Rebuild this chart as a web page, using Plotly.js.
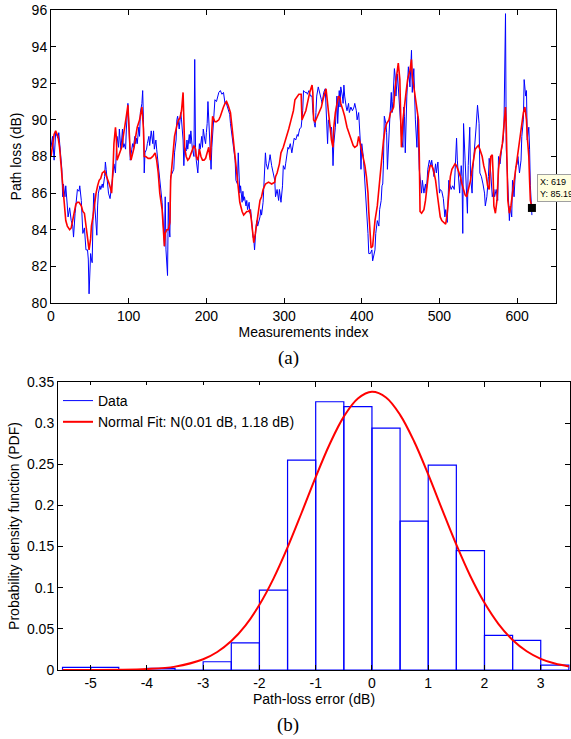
<!DOCTYPE html>
<html>
<head>
<meta charset="utf-8">
<script src="https://cdn.plot.ly/plotly-3.0.1.min.js"></script>
<style>html,body{margin:0;padding:0;background:#fff;}#chart{width:571px;height:739px;}</style>
</head>
<body>
<div id="chart"></div>
<script>
// ---- (a) measured path loss (blue) ----
const measuredIndex = [0,2,4,6,9,10,12,14,15,16,18,19,21,22,24,26,28,29,31,33,34,36,37,39,40,41,43,44,45,47,48,49,51,52,53,54,55,56,57,59,60,61,63,64,66,67,69,70,71,73,74,76,77,78,80,81,83,84,85,87,88,89,90,92,93,94,96,97,99,100,101,102,104,105,106,108,109,110,111,113,114,115,117,118,119,120,121,123,124,126,127,128,129,131,132,133,135,136,137,139,141,143,144,146,147,148,150,151,152,153,154,156,158,159,161,162,163,165,166,167,168,170,171,172,174,175,176,178,179,180,181,182,184,185,186,187,189,190,191,192,194,195,196,198,199,200,201,202,204,205,206,207,209,210,211,213,214,215,216,218,219,220,222,223,224,225,227,228,230,231,233,235,237,238,240,241,242,243,244,246,247,248,249,251,252,253,255,256,257,258,260,261,262,264,265,266,267,269,270,271,273,274,276,277,279,281,282,284,286,288,289,291,293,294,296,298,299,301,302,303,305,306,308,310,312,313,315,317,318,320,322,324,325,327,329,330,332,334,336,337,339,340,341,342,344,346,348,349,351,353,354,356,357,358,360,361,362,363,364,366,367,368,369,371,372,373,375,376,377,378,380,381,383,384,386,388,390,391,393,394,396,397,398,399,400,402,403,404,405,407,408,409,411,413,414,417,418,420,422,423,425,426,427,428,429,431,432,433,435,436,438,439,440,442,443,444,446,447,449,451,453,454,455,456,458,460,462,464,465,467,469,471,472,474,477,478,480,482,483,485,487,489,490,492,493,495,496,498,500,501,503,505,507,508,510,512,513,515,517,519,520,522,523,525,526,528,529,530,531,533,535,536,537,539,540,542,543,545,547,549,551,552,554,556,558,559,561,563,564,566,568,570,571,573,575,576,578,580,582,583,585,586,588,589,590,591,593,594,596,598,600,601,603,605,606,608,609,611,612,613,615,616,617,619];
const measuredLoss = [88.5,89.1,87.8,89.3,89.0,89.3,88.3,87.3,85.8,86.5,85.8,86.4,85.3,84.7,85.2,84.5,84.2,83.6,84.9,86.0,86.2,86.1,86.4,85.6,84.7,83.8,84.1,83.6,82.9,82.9,82.4,80.5,82.7,82.4,82.2,84.5,86.0,85.5,84.7,83.7,85.3,86.0,86.4,86.2,86.5,86.3,86.9,87.7,87.3,86.5,86.0,85.7,86.0,86.5,87.1,87.6,87.1,88.2,89.1,88.5,89.5,88.9,88.4,89.5,88.5,88.7,88.4,89.5,90.9,90.0,88.7,87.8,88.4,88.7,88.5,89.1,88.7,89.0,88.7,89.6,89.1,90.4,90.9,91.6,90.0,87.1,88.2,88.4,88.7,89.1,88.6,88.9,89.4,88.7,89.4,88.4,88.9,88.4,88.0,87.3,86.4,85.5,84.7,83.1,85.8,82.9,81.5,85.5,84.2,83.6,86.9,87.1,87.3,88.2,88.9,90.0,90.2,89.5,90.3,90.4,90.0,88.9,87.5,88.5,88.3,88.9,88.4,89.2,88.7,89.4,88.9,88.4,88.0,93.3,88.5,87.8,87.1,88.0,88.7,88.4,89.1,88.5,89.5,88.9,88.7,89.3,89.8,91.0,89.1,87.5,87.3,88.5,90.2,90.5,91.1,91.0,91.2,91.3,91.5,91.6,91.5,91.4,91.5,91.2,90.9,91.0,90.7,90.5,90.3,89.8,89.1,88.5,87.8,86.7,86.5,88.2,86.9,86.0,86.4,85.5,86.1,85.6,85.8,85.3,85.6,85.1,85.5,84.9,85.1,84.4,83.6,83.5,82.9,84.2,84.5,84.2,84.4,84.7,85.1,84.8,85.5,86.8,88.2,87.6,87.3,87.8,88.1,87.5,87.1,86.7,85.8,86.2,85.6,86.2,85.5,86.4,87.5,87.3,87.6,88.0,88.5,88.4,88.7,88.2,88.7,89.0,88.9,89.2,89.1,89.5,89.6,90.5,91.6,91.5,91.5,91.4,91.6,91.3,91.3,90.5,89.8,89.6,90.4,91.3,91.8,91.5,91.1,90.9,91.5,91.7,90.9,88.7,90.0,89.8,89.5,89.6,88.9,87.5,88.7,89.6,90.5,91.3,89.8,91.6,90.7,91.8,91.3,90.9,91.9,91.3,90.7,90.5,90.9,90.4,90.7,90.5,90.7,90.9,90.5,90.0,90.4,89.6,88.9,87.3,88.7,88.0,87.3,86.9,86.0,84.9,83.8,82.7,82.7,82.9,82.3,82.9,83.8,84.5,84.2,85.1,85.6,86.4,86.5,87.8,90.2,89.8,89.3,87.3,89.5,90.0,91.5,90.4,91.0,92.8,92.4,91.3,92.5,91.8,90.9,89.1,88.5,90.7,90.2,88.2,91.3,92.9,91.8,93.8,91.5,92.8,90.0,88.5,90.2,87.3,86.0,86.7,86.0,86.5,86.0,87.3,87.8,87.5,87.8,87.3,86.9,87.6,87.1,87.7,86.0,86.2,86.1,85.7,84.7,85.1,84.4,86.7,86.5,86.2,86.4,86.2,87.1,89.0,87.8,86.4,86.0,87.5,86.9,83.8,89.8,87.8,86.2,84.9,87.5,89.6,86.9,86.0,87.3,88.2,89.5,90.8,89.8,87.1,86.9,86.5,86.0,85.3,85.8,86.9,87.9,87.1,85.8,86.2,85.8,86.2,85.6,88.0,87.6,88.4,88.9,89.6,95.8,88.4,86.5,85.1,84.5,85.3,84.7,86.7,85.8,87.4,87.6,88.0,87.1,87.8,89.1,90.0,92.2,91.3,91.6,88.9,89.6,88.4,86.4,84.8];

// ---- (a) model / smoothed path loss (red) ----
const modelIndex = [0,2,4,6,9,11,13,15,17,19,21,24,26,28,30,32,34,36,39,41,43,45,47,49,51,52,54,56,58,60,62,64,66,69,71,73,75,77,78,80,81,83,84,85,87,89,91,93,96,97,99,100,102,103,105,107,109,111,114,116,117,119,120,122,125,128,131,134,136,138,140,143,145,146,147,149,151,153,154,156,158,159,162,164,166,168,170,171,172,174,176,178,180,182,184,186,187,189,191,193,195,197,199,201,203,205,207,208,209,211,213,216,218,220,222,224,226,228,231,233,235,237,239,241,243,246,248,250,252,254,256,258,260,261,263,265,267,269,271,273,276,280,284,288,289,291,294,296,299,302,304,306,309,312,314,317,319,322,323,325,328,330,333,336,337,338,340,342,345,348,350,353,354,356,358,360,361,363,364,366,368,370,372,373,376,378,381,384,386,389,391,394,396,398,400,402,404,406,408,409,411,412,414,417,420,422,424,426,428,430,432,435,437,439,441,443,445,447,449,450,451,453,455,457,459,462,464,465,467,469,471,473,474,475,477,480,482,484,486,488,490,492,495,497,499,501,503,505,508,510,512,514,516,518,520,522,525,527,529,531,533,535,537,540,542,544,546,548,550,552,555,557,560,562,564,566,568,569,570,572,574,576,578,581,583,585,586,587,588,590,592,594,597,599,602,604,606,608,610,612,613,615,616,617,619];
const modelLoss = [88.0,88.7,89.2,89.4,89.1,88.5,87.6,86.5,85.6,84.5,84.2,84.0,84.1,84.5,85.1,85.4,85.5,85.5,85.3,85.0,84.9,84.2,83.5,82.9,83.5,84.2,84.7,85.5,86.0,86.4,86.7,86.8,87.1,87.2,87.0,86.7,86.5,86.2,86.0,87.5,88.7,89.6,89.1,87.8,88.0,88.2,88.5,89.1,89.8,90.2,90.8,89.6,88.2,87.8,88.2,88.5,89.1,89.6,90.0,90.5,90.7,89.5,88.0,88.0,87.9,87.9,88.0,88.2,87.8,87.1,86.0,85.1,84.0,83.1,83.8,84.0,84.0,84.4,86.7,87.8,88.5,89.1,89.7,90.0,90.1,90.5,91.5,90.2,88.5,88.0,87.8,87.9,88.1,88.4,88.6,88.4,88.0,87.8,88.4,88.0,87.8,87.8,87.9,88.2,88.5,87.8,89.3,90.2,90.1,89.9,89.9,90.0,90.2,90.5,90.7,90.9,91.0,90.8,90.4,89.6,88.7,87.8,86.9,86.0,85.5,85.0,84.8,84.9,85.0,85.0,85.1,84.5,83.8,83.3,83.8,84.5,85.1,85.6,85.8,86.2,86.5,86.6,86.5,86.6,86.9,87.1,87.6,88.2,88.5,88.9,89.2,89.5,90.0,90.5,91.1,91.3,91.4,91.4,90.0,90.2,90.5,90.9,91.5,91.9,91.5,90.0,89.9,90.1,90.4,90.7,91.1,91.5,91.7,90.9,90.0,89.3,88.9,88.5,89.6,90.4,90.9,91.3,91.2,90.9,90.5,90.2,89.6,89.2,88.9,88.6,88.5,88.6,89.1,88.7,88.2,87.8,87.5,86.9,86.0,85.0,83.8,83.0,83.1,84.5,85.3,86.2,87.3,88.2,88.9,89.5,89.8,90.0,90.4,90.5,90.7,91.8,92.5,93.1,92.2,89.6,88.5,90.0,90.9,91.5,92.2,92.7,93.3,92.4,91.8,91.1,90.5,90.0,88.2,85.0,84.9,85.1,85.6,86.4,87.1,87.5,87.5,87.3,86.7,86.0,85.3,84.7,84.5,84.4,84.3,84.9,86.0,86.9,87.3,87.5,87.6,87.5,87.2,86.9,86.5,86.2,85.9,85.8,86.2,86.7,87.3,87.8,88.4,88.5,88.6,88.4,88.0,87.5,87.0,86.4,86.2,88.0,88.1,87.1,85.3,84.9,85.6,87.3,88.0,88.7,89.6,90.7,89.6,87.5,85.6,84.9,85.3,86.0,86.9,87.6,88.4,89.1,89.8,90.4,90.7,90.0,89.1,88.0,86.7,85.6,85.19];

// ---- data tip ----
const tipX = [619];
const tipY = [85.19];

// ---- (b) histogram of path-loss error ----
const binCenters = [-5.25,-4.75,-4.25,-3.75,-3.25,-2.75,-2.25,-1.75,-1.25,-0.75,-0.25,0.25,0.75,1.25,1.75,2.25,2.75,3.25];
const binPdf = [0.0033,0.0033,0,0.002,0,0.010,0.033,0.097,0.255,0.326,0.320,0.294,0.181,0.249,0.145,0.042,0.036,0.006];

// ---- (b) normal fit curve ----
const fitX = [-5.5,-5,-4.5,-4,-3.5,-3,-2.75,-2.5,-2.25,-2,-1.75,-1.5,-1.25,-1,-0.75,-0.5,-0.25,0,0.25,0.5,0.75,1,1.25,1.5,1.75,2,2.25,2.5,2.75,3,3.25,3.5];
const fitPdf = [0.0000,0.0000,0.0002,0.0011,0.0041,0.0131,0.0219,0.0352,0.0540,0.0793,0.1111,0.1490,0.1911,0.2344,0.2747,0.3079,0.3299,0.3380,0.3311,0.3101,0.2777,0.2377,0.1946,0.1523,0.1139,0.0816,0.0558,0.0365,0.0228,0.0136,0.0078,0.0043];

// ---- tick labels ----
const topXTicks = [0,100,200,300,400,500,600];
const botXTicks = [-5,-4,-3,-2,-1,0,1,2,3];
const botXLabels = ['-5','-4','-3','-2','-1','0','1','2','3'];
const botYTicks = [0,0.05,0.1,0.15,0.2,0.25,0.3,0.35];
const botYLabels = ['0','0.05','0.1','0.15','0.2','0.25','0.3','0.35'];

const font = 'Liberation Sans, Arial, Helvetica, sans-serif';
const W = 571, H = 739;
function px(x){return x/W;}
function py(y){return 1 - y/H;}

const traces = [
  {x: measuredIndex, y: measuredLoss, type:'scatter', mode:'lines', line:{color:'#0000ff', width:1}, xaxis:'x', yaxis:'y', showlegend:false, hoverinfo:'skip'},
  {x: modelIndex, y: modelLoss, type:'scatter', mode:'lines', line:{color:'#ff0000', width:1.6}, xaxis:'x', yaxis:'y', showlegend:false, hoverinfo:'skip'},
  {x: tipX, y: tipY, type:'scatter', mode:'markers', marker:{symbol:'square', color:'#000', size:8}, xaxis:'x', yaxis:'y', showlegend:false, cliponaxis:false},
  {x: binCenters, y: binPdf, type:'bar', width:0.5, marker:{color:'rgba(0,0,0,0)', line:{color:'#0000ff', width:1.2}}, xaxis:'x2', yaxis:'y2', showlegend:false},
  {x: [null], y: [null], type:'scatter', mode:'lines', name:'Data', line:{color:'#0000ff', width:1}, xaxis:'x2', yaxis:'y2'},
  {x: fitX, y: fitPdf, type:'scatter', mode:'lines', name:'Normal Fit: N(0.01 dB, 1.18 dB)', line:{color:'#ff0000', width:2, shape:'spline'}, xaxis:'x2', yaxis:'y2'}
];

const axisCommon = {showline:true, linecolor:'#000', linewidth:1, mirror:'ticks', ticks:'inside', ticklen:5, tickcolor:'#000', showgrid:false, zeroline:false, tickfont:{family:font, size:14, color:'#000'}};

const layout = {
  width: W, height: H,
  margin:{l:0, r:0, t:0, b:0},
  paper_bgcolor:'#fff', plot_bgcolor:'#fff',
  font:{family:font, size:14, color:'#000'},
  bargap:0,
  xaxis: Object.assign({}, axisCommon, {domain:[px(51), px(556)], range:[0,650], tickvals:topXTicks, anchor:'y',
    title:{text:'Measurements index', font:{family:font, size:14}, standoff:2}}),
  yaxis: Object.assign({}, axisCommon, {domain:[py(303), py(10)], range:[80,96], dtick:2, anchor:'x',
    title:{text:'Path loss (dB)', font:{family:font, size:14}, standoff:6}}),
  xaxis2: Object.assign({}, axisCommon, {domain:[px(58), px(570)], range:[-5.58,3.52], tickvals:botXTicks, ticktext:botXLabels, anchor:'y2',
    title:{text:'Path-loss error (dB)', font:{family:font, size:14}, standoff:2}}),
  yaxis2: Object.assign({}, axisCommon, {domain:[py(670), py(382)], range:[0,0.35], tickvals:botYTicks, ticktext:botYLabels, anchor:'x2',
    title:{text:'Probability density function (PDF)', font:{family:font, size:14}, standoff:4}}),
  legend:{x:px(58), y:py(385), xanchor:'left', yanchor:'top', bgcolor:'#fff', borderwidth:0, font:{family:font, size:14}, tracegroupgap:0, itemwidth:30},
  showlegend:true,
  annotations:[
    {xref:'paper', yref:'paper', x:px(288), y:py(358), xanchor:'center', yanchor:'middle', text:'(a)', showarrow:false, font:{family:'Liberation Serif, Times New Roman, serif', size:19, color:'#000'}},
    {xref:'paper', yref:'paper', x:px(288), y:py(725), xanchor:'center', yanchor:'middle', text:'(b)', showarrow:false, font:{family:'Liberation Serif, Times New Roman, serif', size:19, color:'#000'}},
    {xref:'x', yref:'y', x:tipX[0], y:tipY[0], xanchor:'left', yanchor:'bottom', xshift:5, yshift:6, text:'X: 619<br>Y: 85.19', align:'left', showarrow:false,
      font:{family:font, size:9, color:'#000'}, bgcolor:'#ffffe0', bordercolor:'#a0a0a0', borderwidth:1, borderpad:2}
  ]
};

Plotly.newPlot('chart', traces, layout, {staticPlot:true, displayModeBar:false});
</script>
</body>
</html>
